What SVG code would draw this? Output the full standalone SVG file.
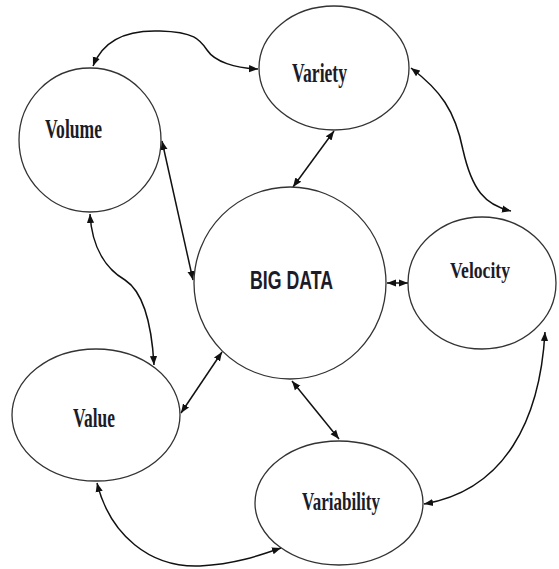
<svg xmlns="http://www.w3.org/2000/svg" width="559" height="569" viewBox="0 0 559 569">
<style>
.node{fill:#fff;stroke:#333;stroke-width:1.3}
.lbl{font-family:"Liberation Serif","Times New Roman",serif;font-weight:bold;fill:#1c1c28}
.big{font-family:"Liberation Sans",Arial,sans-serif;font-weight:bold;fill:#1c1c28}
.con{fill:none;stroke:#111;stroke-width:1.5;marker-start:url(#ah);marker-end:url(#ah)}
</style>
<defs>
<marker id="ah" viewBox="0 0 10 10" refX="10" refY="5" markerWidth="9" markerHeight="9" markerUnits="userSpaceOnUse" orient="auto-start-reverse">
<path d="M0,1 L10,5 L0,9 Z" fill="#111"/>
</marker>
</defs>
<rect width="559" height="569" fill="#fff"/>
<g id="connectors">
<path class="con" d="M93,66 C105,35 135,30 160,31 C195,32 200,40 207,50 C215,62 235,68 258,69"/>
<path class="con" d="M162,141 L193,280"/>
<path class="con" d="M90,214 C92,250 108,270 125,280 C145,293 152,330 154,365"/>
<path class="con" d="M222,352 L181,413"/>
<path class="con" d="M293,187 L334,131"/>
<path class="con" d="M411,68 C440,90 455,110 463,150 C472,190 485,205 511,211"/>
<path class="con" d="M387,283 L408,283"/>
<path class="con" d="M292,381 L339,439"/>
<path class="con" d="M545,332 C540,420 505,490 424,504"/>
<path class="con" d="M97,483 C110,535 150,568 200,566 C235,564 258,556 281,548"/>
</g>
<g id="volume">
<ellipse class="node" cx="90" cy="140" rx="71" ry="72"/>
<text class="lbl" x="45" y="138" font-size="28" textLength="57" lengthAdjust="spacingAndGlyphs">Volume</text>
</g>
<g id="variety">
<ellipse class="node" cx="334" cy="68" rx="75" ry="62"/>
<text class="lbl" x="292" y="82" font-size="27" textLength="55" lengthAdjust="spacingAndGlyphs">Variety</text>
</g>
<g id="bigdata">
<circle class="node" cx="290" cy="283" r="96"/>
<text class="big" x="250" y="289" font-size="26" textLength="83" lengthAdjust="spacingAndGlyphs">BIG DATA</text>
</g>
<g id="velocity">
<ellipse class="node" cx="482" cy="283" rx="74" ry="66"/>
<text class="lbl" x="450" y="278" font-size="23" textLength="60" lengthAdjust="spacingAndGlyphs">Velocity</text>
</g>
<g id="value">
<ellipse class="node" cx="96" cy="415" rx="84" ry="66"/>
<text class="lbl" x="73" y="427" font-size="27" textLength="42" lengthAdjust="spacingAndGlyphs">Value</text>
</g>
<g id="variability">
<ellipse class="node" cx="339" cy="503" rx="84" ry="62"/>
<text class="lbl" x="302" y="510" font-size="25" textLength="78" lengthAdjust="spacingAndGlyphs">Variability</text>
</g>
</svg>
